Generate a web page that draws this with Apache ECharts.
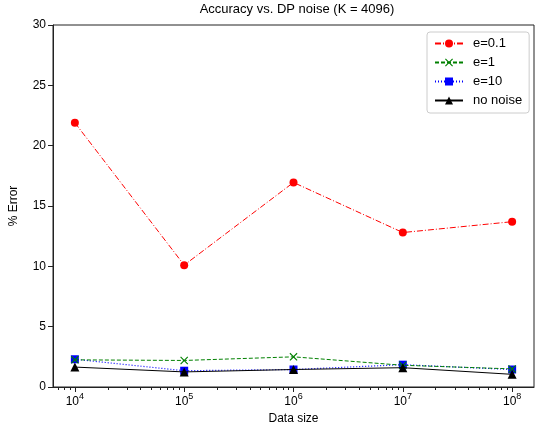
<!DOCTYPE html>
<html>
<head>
<meta charset="utf-8">
<script src="https://cdn.jsdelivr.net/npm/echarts@6/dist/echarts.min.js"></script>
<style>
  html, body { margin: 0; padding: 0; background: #fff; }
  #main { width: 535px; height: 430px; }
</style>
</head>
<body>
<div id="main"></div>
<script>
// 数据
var sizes = [1e4, 1e5, 1e6, 1e7, 1e8];
var err01 = [21.9, 10.1, 16.95, 12.8, 13.7];
var err1 = [2.25, 2.2, 2.5, 1.8, 1.5];
var err10 = [2.3, 1.35, 1.45, 1.85, 1.45];
var noNoise = [1.65, 1.25, 1.45, 1.6, 1.05];
var yTicks = [0, 5, 10, 15, 20, 25, 30];
var xMajor = [4, 5, 6, 7, 8];

// 次刻度 (log10 of 2..9 x 10^k)
var xMinor = [];
for (var k = 3; k <= 8; k++) {
    for (var m = 2; m <= 9; m++) {
        var v = k + Math.log10(m);
        if (v > 3.8 && v < 8.2) xMinor.push(v);
    }
}

function pts(arr) {
    return sizes.map(function (s, i) { return [Math.log10(s), arr[i]]; });
}

var FONT = 'Liberation Sans, Arial, sans-serif';
var crossPath = 'path://M1,0 L5,4 L9,0 L10,1 L6,5 L10,9 L9,10 L5,6 L1,10 L0,9 L4,5 L0,1 Z';

var chart = echarts.init(document.getElementById('main'));
var option = {
    animation: false,
    title: {
        text: 'Accuracy vs. DP noise (K = 4096)',
        left: 292,
        textAlign: 'center',
        top: -2,
        textStyle: { fontFamily: FONT, fontSize: 13, fontWeight: 'normal', color: '#000' }
    },
    legend: {
        orient: 'vertical',
        left: 427,
        top: 32,
        padding: [5, 7, 6, 7],
        itemWidth: 28,
        itemHeight: 10,
        itemGap: 6,
        borderColor: '#ccc',
        borderWidth: 1,
        borderRadius: 3,
        textStyle: { fontFamily: FONT, fontSize: 13, color: '#000', padding: [0, 0, 0, 5] },
        data: ['e=0.1', 'e=1', 'e=10', 'no noise']
    },
    grid: {
        left: 50, right: 1, top: 25, bottom: 42,
        show: true, borderColor: '#222', borderWidth: 1
    },
    xAxis: [{
        type: 'value',
        min: 3.8, max: 8.2,
        name: 'Data size',
        nameLocation: 'middle',
        nameGap: 26,
        nameTextStyle: { fontFamily: FONT, fontSize: 12, color: '#000' },
        axisLine: { lineStyle: { color: '#222' } },
        axisTick: { customValues: xMajor, length: 5, lineStyle: { color: '#222' } },
        axisLabel: {
            customValues: xMajor,
            margin: 5,
            formatter: function (v) { return '{b|10}{s|' + Math.round(v) + '}'; },
            rich: {
                b: { fontFamily: FONT, fontSize: 12, color: '#000', lineHeight: 16, verticalAlign: 'bottom' },
                s: { fontFamily: FONT, fontSize: 9, color: '#000', verticalAlign: 'top' }
            }
        },
        splitLine: { show: false }
    }, {
        type: 'value',
        min: 3.8, max: 8.2,
        position: 'bottom',
        axisLine: { show: false },
        axisTick: { customValues: xMinor, length: 3, lineStyle: { color: '#222' } },
        axisLabel: { show: false },
        splitLine: { show: false }
    }],
    yAxis: {
        type: 'value',
        min: 0, max: 30, interval: 5,
        name: '% Error',
        nameLocation: 'middle',
        nameGap: 33,
        nameTextStyle: { fontFamily: FONT, fontSize: 12, color: '#000' },
        axisLine: { show: true, lineStyle: { color: '#222' } },
        axisTick: { show: true, length: 5, lineStyle: { color: '#222' } },
        axisLabel: {
            fontFamily: FONT, fontSize: 12, color: '#000', margin: 7,
            formatter: function (v) { return yTicks.indexOf(v) >= 0 ? String(v) : ''; }
        },
        splitLine: { show: false }
    },
    series: [{
        name: 'e=0.1',
        type: 'line',
        data: pts(err01),
        symbol: 'circle',
        symbolSize: 8,
        itemStyle: { color: '#ff0000' },
        lineStyle: { color: '#ff0000', width: 1, type: [6, 2, 1, 2] },
        z: 5
    }, {
        name: 'e=1',
        type: 'line',
        data: pts(err1),
        symbol: crossPath,
        symbolSize: 8,
        itemStyle: { color: '#008000' },
        lineStyle: { color: '#008000', width: 1, type: [4, 2] },
        z: 4
    }, {
        name: 'e=10',
        type: 'line',
        data: pts(err10),
        symbol: 'rect',
        symbolSize: 8,
        itemStyle: { color: '#0000ff' },
        lineStyle: { color: '#0000ff', width: 1.2, type: [1, 2] },
        z: 3
    }, {
        name: 'no noise',
        type: 'line',
        data: pts(noNoise),
        symbol: 'triangle',
        symbolSize: 9,
        itemStyle: { color: '#000' },
        lineStyle: { color: '#000', width: 1, type: 'solid' },
        z: 6
    }]
};
chart.setOption(option);
</script>
</body>
</html>
